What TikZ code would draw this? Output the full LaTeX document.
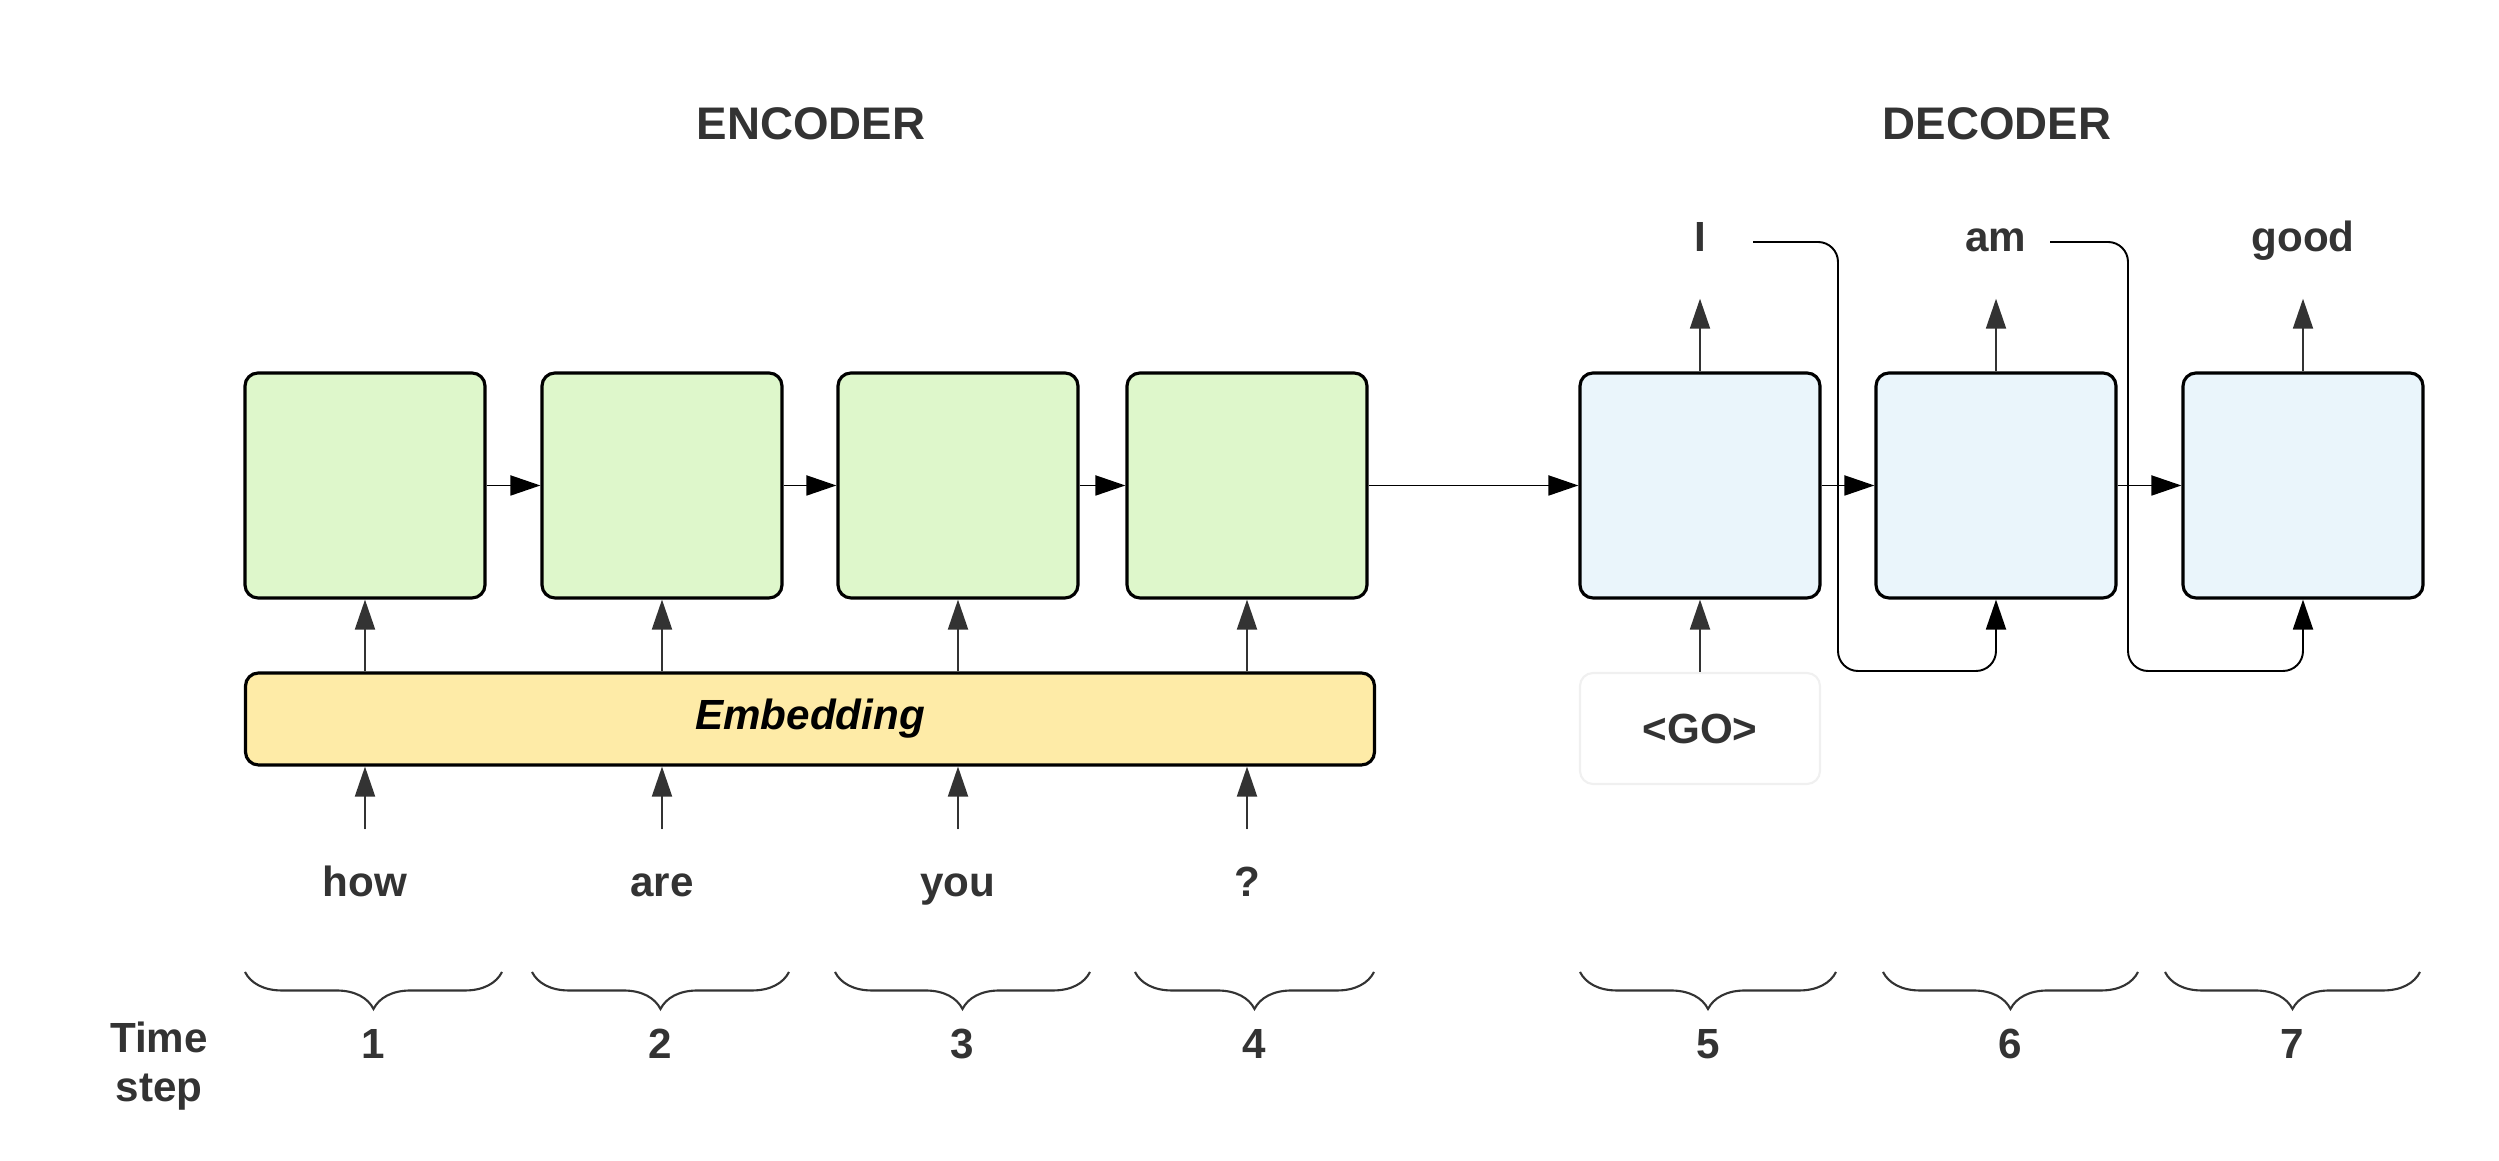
\documentclass[tikz,border=0pt]{standalone}
\usepackage{fontspec}
\setmainfont{Liberation Sans}
\usepackage{tikz}
\usetikzlibrary{positioning,calc,arrows.meta,decorations.pathreplacing}

\definecolor{encfill}{HTML}{DEF7CB}
\definecolor{decfill}{HTML}{EAF5FB}
\definecolor{embfill}{HTML}{FEEBA7}
\definecolor{gofill}{HTML}{FFFFFF}
\definecolor{goline}{HTML}{F0F0F0}
\definecolor{txtgray}{HTML}{333333}

\tikzset{
	cell/.style={shape=rectangle,draw=black,line width=0.9pt,rounded corners=0.13cm,minimum width=2.4cm,minimum height=2.25cm},
	enccell/.style={cell,fill=encfill},
	deccell/.style={cell,fill=decfill},
	word/.style={anchor=base,text=txtgray,font=\bfseries\fontsize{12}{14}\selectfont,text height=0.3cm,text depth=0.08cm,inner sep=0.1cm},
	title/.style={anchor=base,text=txtgray,font=\bfseries\fontsize{13}{15}\selectfont},
	link/.style={-{Triangle[length=0.3cm,width=0.2cm]},line width=0.55pt},
	uplink/.style={link,draw=txtgray,fill=txtgray},
	tbrace/.style={decorate,decoration={brace,mirror,amplitude=0.37cm},draw=txtgray,line width=0.6pt}
}

\begin{document}
\begin{tikzpicture}
				\useasboundingbox (0,0) rectangle (24.99,11.61);

				\node[title] (enc) at (8.11,10.21) {ENCODER};
				\node[title] (dec) at (19.97,10.21) {DECODER};

				% encoder cells
				\node[enccell] (e1) at (3.65,6.755) {};
				\node[enccell] (e2) at (6.62,6.755) {};
				\node[enccell] (e3) at (9.58,6.755) {};
				\node[enccell] (e4) at (12.47,6.755) {};
				\node[shape=rectangle,draw=black,line width=0.9pt,rounded corners=0.13cm,fill=embfill,minimum width=11.29cm,minimum height=0.92cm,font=\bfseries\itshape\fontsize{12}{14}\selectfont] (emb) at (8.10,4.42) {Embedding};

				% decoder cells
				\node[deccell] (d1) at (17.00,6.755) {};
				\node[deccell] (d2) at (19.96,6.755) {};
				\node[deccell] (d3) at (23.03,6.755) {};
				\node[shape=rectangle,draw=goline,line width=0.6pt,rounded corners=0.13cm,fill=gofill,minimum width=2.4cm,minimum height=1.11cm,text=txtgray,font=\bfseries\fontsize{12}{14}\selectfont] (go) at (17.00,4.325) {<GO>};

				% words
				\node[word] (w1) at (3.65,2.64) {how};
				\node[word] (w2) at (6.62,2.64) {are};
				\node[word] (w3) at (9.58,2.64) {you};
				\node[word] (w4) at (12.47,2.64) {?};
				\node[word] (o1) at (17.00,9.09) {I};
				\node[word] (o2) at (19.96,9.09) {am};
				\node[word] (o3) at (23.03,9.09) {good};

				\draw[uplink] ([yshift=0.27cm]w1.north) -- (w1.north |- emb.south);
				\draw[uplink] ([yshift=0.27cm]w2.north) -- (w2.north |- emb.south);
				\draw[uplink] ([yshift=0.27cm]w3.north) -- (w3.north |- emb.south);
				\draw[uplink] ([yshift=0.27cm]w4.north) -- (w4.north |- emb.south);

				\draw[uplink] (e1.south |- emb.north) -- (e1.south);
				\draw[uplink] (e2.south |- emb.north) -- (e2.south);
				\draw[uplink] (e3.south |- emb.north) -- (e3.south);
				\draw[uplink] (e4.south |- emb.north) -- (e4.south);

				\draw[link] (e1.east) -- (e2.west);
				\draw[link] (e2.east) -- (e3.west);
				\draw[link] (e3.east) -- (e4.west);
				\draw[link] (e4.east) -- (d1.west);
				\draw[link] (d1.east) -- (d2.west);
				\draw[link] (d2.east) -- (d3.west);

				\draw[uplink] (go.north) -- (d1.south);
				\draw[uplink] (d1.north) -- ([yshift=-0.28cm]o1.south);
				\draw[uplink] (d2.north) -- ([yshift=-0.28cm]o2.south);
				\draw[uplink] (d3.north) -- ([yshift=-0.28cm]o3.south);

				% fed back outputs
				\coordinate (f1) at (17.53,9.19);
				\coordinate (k1) at (18.38,4.90);
				\coordinate (f2) at (20.50,9.19);
				\coordinate (k2) at (21.28,4.90);
				\draw[link,rounded corners=0.2cm] (f1) -| (k1) -| (d2.south);
				\draw[link,rounded corners=0.2cm] (f2) -| (k2) -| (d3.south);

				% time steps
				\draw[tbrace] (2.45,1.89) -- (5.02,1.89) node[word,midway,below=0.45cm,anchor=north] (t1) {1};
				\draw[tbrace] (5.32,1.89) -- (7.89,1.89) node[word,midway,below=0.45cm,anchor=north] (t2) {2};
				\draw[tbrace] (8.35,1.89) -- (10.90,1.89) node[word,midway,below=0.45cm,anchor=north] (t3) {3};
				\draw[tbrace] (11.35,1.89) -- (13.74,1.89) node[word,midway,below=0.45cm,anchor=north] (t4) {4};
				\draw[tbrace] (15.80,1.89) -- (18.36,1.89) node[word,midway,below=0.45cm,anchor=north] (t5) {5};
				\draw[tbrace] (18.83,1.89) -- (21.38,1.89) node[word,midway,below=0.45cm,anchor=north] (t6) {6};
				\draw[tbrace] (21.65,1.89) -- (24.20,1.89) node[word,midway,below=0.45cm,anchor=north] (t7) {7};
				\node[text=txtgray,font=\bfseries\fontsize{12}{14}\selectfont,align=center] (ts) at (1.59,0.95) {Time\\step};
\end{tikzpicture}
\end{document}
